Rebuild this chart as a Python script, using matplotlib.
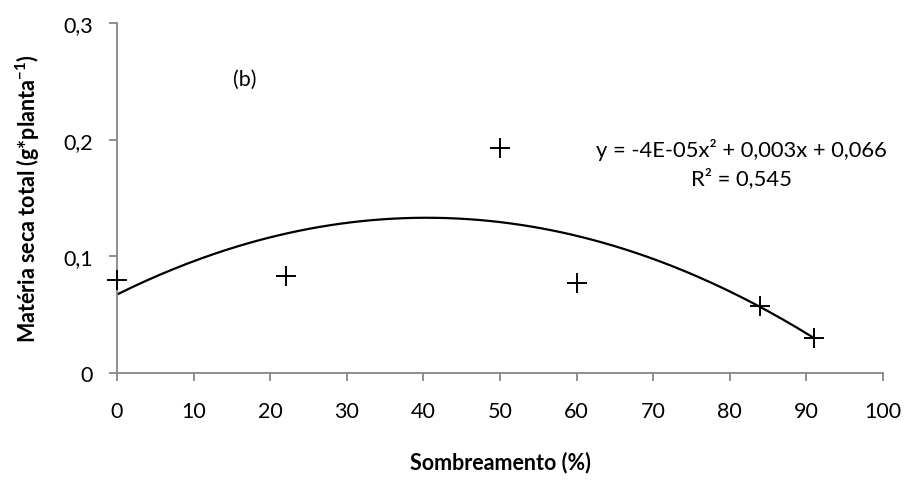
import numpy as np
import matplotlib
matplotlib.use("Agg")
import matplotlib.pyplot as plt
from matplotlib.ticker import FuncFormatter

plt.rcParams['font.family'] = ['Lato', 'DejaVu Sans']
plt.rcParams['mathtext.fontset'] = 'custom'
plt.rcParams['mathtext.rm'] = 'Lato'
plt.rcParams['mathtext.bf'] = 'Lato:bold'

# Shading level (%) and total dry matter (g per plant)
shading = [0, 22, 50, 60, 84, 91]
dry_matter = [0.080, 0.083, 0.193, 0.077, 0.057, 0.030]

x_ticks = [0, 10, 20, 30, 40, 50, 60, 70, 80, 90, 100]
y_ticks = [0, 0.1, 0.2, 0.3]

equation = "y = -4E-05x² + 0,003x + 0,066\nR² = 0,545"

# Second-order polynomial trendline over the observed range
coef = np.polyfit(shading, dry_matter, 2)
xs = np.linspace(min(shading), max(shading), 200)
ys = np.polyval(coef, xs)

fig = plt.figure(figsize=(9.08, 4.81), dpi=100)
ax = fig.add_axes([0.1289, 0.2225, 0.8436, 0.7275])

ax.plot(xs, ys, color='black', lw=1.6)
ax.plot(shading, dry_matter, linestyle='none', marker='+', color='black',
        markersize=14, markeredgewidth=1.4, clip_on=False, zorder=4)

ax.set_xlim(0, 100)
ax.set_ylim(0, 0.3)
ax.set_xticks(x_ticks)
ax.set_yticks(y_ticks)
ax.yaxis.set_major_formatter(FuncFormatter(lambda v, p: "0" if v == 0 else f"{v:.1f}".replace('.', ',')))

for side in ('top', 'right'):
    ax.spines[side].set_visible(False)
for side in ('left', 'bottom'):
    ax.spines[side].set_color('#868686')
    ax.spines[side].set_linewidth(1.3)
ax.tick_params(axis='both', colors='#868686', length=5.5, width=1.3, labelsize=15.5,
               labelcolor='black')
ax.tick_params(axis='x', pad=15)
ax.tick_params(axis='y', pad=12)

ax.set_xlabel('Sombreamento (%)', fontsize=15.5, fontweight='bold', labelpad=21)
ax.set_ylabel(r'Matéria seca total (g*planta$^{\mathbf{-1}}$)', fontsize=15.5,
              fontweight='bold', labelpad=15)

ax.text(16.7, 0.252, '(b)', fontsize=15.5, ha='center', va='center')
ax.text(81.5, 0.180, equation, fontsize=15.8, ha='center', va='center',
        multialignment='center', linespacing=1.4)

fig.savefig('out.png', dpi=100)
